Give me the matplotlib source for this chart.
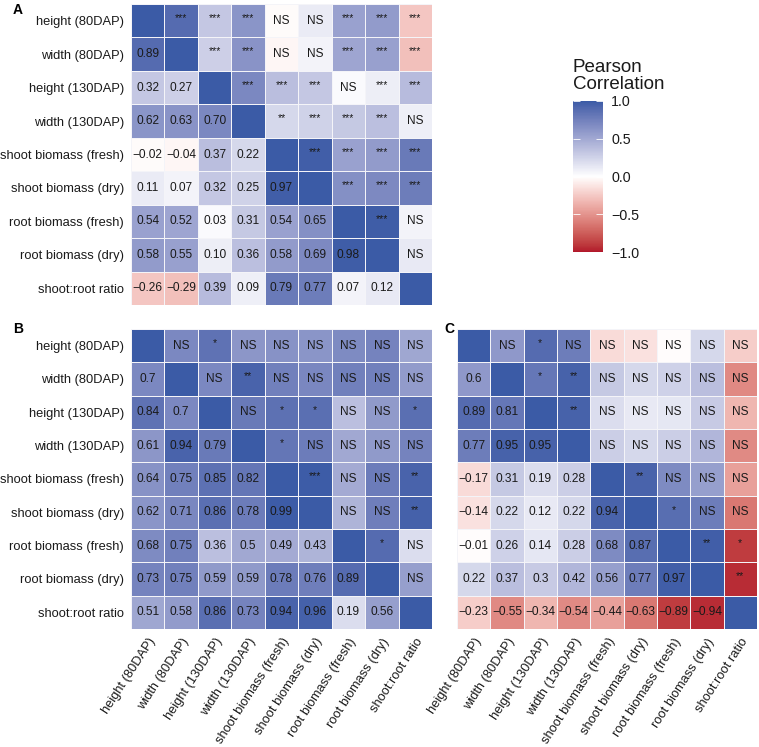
import numpy as np
import matplotlib
matplotlib.use("Agg")
import matplotlib.pyplot as plt
from matplotlib.colors import ListedColormap, Normalize, to_rgb

plt.rcParams['font.family'] = ['Liberation Sans', 'DejaVu Sans']

traits = ["height (80DAP)", "width (80DAP)", "height (130DAP)", "width (130DAP)",
          "shoot biomass (fresh)", "shoot biomass (dry)", "root biomass (fresh)",
          "root biomass (dry)", "shoot:root ratio"]

# lower-triangle correlations (row i, columns 0..i-1)
corr_A = [
    [],
    [0.89],
    [0.32, 0.27],
    [0.62, 0.63, 0.70],
    [-0.02, -0.04, 0.37, 0.22],
    [0.11, 0.07, 0.32, 0.25, 0.97],
    [0.54, 0.52, 0.03, 0.31, 0.54, 0.65],
    [0.58, 0.55, 0.10, 0.36, 0.58, 0.69, 0.98],
    [-0.26, -0.29, 0.39, 0.09, 0.79, 0.77, 0.07, 0.12],
]
lab_A = [
    [], ["0.89"], ["0.32", "0.27"], ["0.62", "0.63", "0.70"],
    ["\u22120.02", "\u22120.04", "0.37", "0.22"],
    ["0.11", "0.07", "0.32", "0.25", "0.97"],
    ["0.54", "0.52", "0.03", "0.31", "0.54", "0.65"],
    ["0.58", "0.55", "0.10", "0.36", "0.58", "0.69", "0.98"],
    ["\u22120.26", "\u22120.29", "0.39", "0.09", "0.79", "0.77", "0.07", "0.12"],
]
# upper-triangle significance (row i, columns i+1..8)
sig_A = [
    ["***", "***", "***", "NS", "NS", "***", "***", "***"],
    ["***", "***", "NS", "NS", "***", "***", "***"],
    ["***", "***", "***", "NS", "***", "***"],
    ["**", "***", "***", "***", "NS"],
    ["***", "***", "***", "***"],
    ["***", "***", "***"],
    ["***", "NS"],
    ["NS"],
    [],
]

corr_B = [
    [],
    [0.7],
    [0.84, 0.7],
    [0.61, 0.94, 0.79],
    [0.64, 0.75, 0.85, 0.82],
    [0.62, 0.71, 0.86, 0.78, 0.99],
    [0.68, 0.75, 0.36, 0.5, 0.49, 0.43],
    [0.73, 0.75, 0.59, 0.59, 0.78, 0.76, 0.89],
    [0.51, 0.58, 0.86, 0.73, 0.94, 0.96, 0.19, 0.56],
]
sig_B = [
    ["NS", "*", "NS", "NS", "NS", "NS", "NS", "NS"],
    ["NS", "**", "NS", "NS", "NS", "NS", "NS"],
    ["NS", "*", "*", "NS", "NS", "*"],
    ["*", "NS", "NS", "NS", "NS"],
    ["***", "NS", "NS", "**"],
    ["NS", "NS", "**"],
    ["*", "NS"],
    ["NS"],
    [],
]

corr_C = [
    [],
    [0.6],
    [0.89, 0.81],
    [0.77, 0.95, 0.95],
    [-0.17, 0.31, 0.19, 0.28],
    [-0.14, 0.22, 0.12, 0.22, 0.94],
    [-0.01, 0.26, 0.14, 0.28, 0.68, 0.87],
    [0.22, 0.37, 0.3, 0.42, 0.56, 0.77, 0.97],
    [-0.23, -0.55, -0.34, -0.54, -0.44, -0.63, -0.89, -0.94],
]
sig_C = [
    ["NS", "*", "NS", "NS", "NS", "NS", "NS", "NS"],
    ["*", "**", "NS", "NS", "NS", "NS", "NS"],
    ["**", "NS", "NS", "NS", "NS", "NS"],
    ["NS", "NS", "NS", "NS", "NS"],
    ["**", "NS", "NS", "NS"],
    ["*", "NS", "NS"],
    ["**", "*"],
    ["**"],
    [],
]


# ---- Lab-interpolated diverging palette (like ggplot's gradient2) ----
def srgb_to_lab(c):
    c = np.asarray(c, float)
    lin = np.where(c <= 0.04045, c / 12.92, ((c + 0.055) / 1.055) ** 2.4)
    M = np.array([[0.4124, 0.3576, 0.1805], [0.2126, 0.7152, 0.0722], [0.0193, 0.1192, 0.9505]])
    xyz = M @ lin / np.array([0.95047, 1.0, 1.08883])
    f = np.where(xyz > 0.008856, np.cbrt(xyz), 7.787 * xyz + 16 / 116)
    return np.array([116 * f[1] - 16, 500 * (f[0] - f[1]), 200 * (f[1] - f[2])])


def lab_to_srgb(lab):
    L, a, b = lab
    fy = (L + 16) / 116
    fx = fy + a / 500
    fz = fy - b / 200
    f = np.array([fx, fy, fz])
    xyz = np.where(f ** 3 > 0.008856, f ** 3, (f - 16 / 116) / 7.787) * np.array([0.95047, 1.0, 1.08883])
    Mi = np.array([[3.2406, -1.5372, -0.4986], [-0.9689, 1.8758, 0.0415], [0.0557, -0.2040, 1.0570]])
    lin = Mi @ xyz
    lin = np.clip(lin, 0, 1)
    c = np.where(lin <= 0.0031308, 12.92 * lin, 1.055 * lin ** (1 / 2.4) - 0.055)
    return np.clip(c, 0, 1)


low, mid, high = "#B2182B", "#FFFFFF", "#3B5BA6"
Llow, Lmid, Lhigh = (srgb_to_lab(to_rgb(c)) for c in (low, mid, high))
cols = []
N = 256
for t in np.linspace(-1, 1, N):
    if t < 0:
        lab = Lmid + (-t) * (Llow - Lmid)
    else:
        lab = Lmid + t * (Lhigh - Lmid)
    cols.append(lab_to_srgb(lab))
cmap = ListedColormap(cols)
norm = Normalize(-1, 1)


def fmt(v):
    s = f"{v:g}"
    return s.replace("-", "\u2212")


def draw(ax, corr, sig, labels=None, show_x=False):
    n = len(traits)
    M = np.eye(n)
    for i, row in enumerate(corr):
        for j, v in enumerate(row):
            M[i, j] = v
            M[j, i] = v
    ax.pcolormesh(np.arange(n + 1), np.arange(n + 1), M, cmap=cmap, norm=norm,
                  edgecolors="#f4f4f8", linewidth=0.6)
    ax.set_xlim(0, n)
    ax.set_ylim(n, 0)
    for i, row in enumerate(corr):
        for j, v in enumerate(row):
            t = labels[i][j] if labels is not None else fmt(v)
            ax.text(j + 0.5, i + 0.5, t, ha="center", va="center", fontsize=8.6, color="#1a1a1a")
    for i, row in enumerate(sig):
        for k, s in enumerate(row):
            j = i + 1 + k
            if s == "NS":
                ax.text(j + 0.5, i + 0.5, s, ha="center", va="center", fontsize=8.6, color="#1a1a1a")
            else:
                ax.text(j + 0.5, i + 0.42, s, ha="center", va="center", fontsize=7.5, color="#1a1a1a")
    ax.set_yticks(np.arange(n) + 0.5)
    ax.set_yticklabels(traits, fontsize=9.3, color="#1a1a1a")
    ax.set_xticks(np.arange(n) + 0.5)
    if show_x:
        ax.set_xticklabels(traits, fontsize=9.3, color="#1a1a1a", rotation=57,
                           ha="right", rotation_mode="anchor")
    else:
        ax.set_xticklabels([])
    ax.tick_params(length=0, pad=5)
    for sp in ax.spines.values():
        sp.set_visible(False)


fig = plt.figure(figsize=(7.59, 7.47), dpi=100)
W, H = 759, 747


def px_axes(x0, y0, x1, y1):
    return fig.add_axes([x0 / W, 1 - y1 / H, (x1 - x0) / W, (y1 - y0) / H])


axA = px_axes(131, 4, 432, 305)
draw(axA, corr_A, sig_A, labels=lab_A)
axB = px_axes(131, 329, 432, 629)
draw(axB, corr_B, sig_B, show_x=True)
axC = px_axes(457, 329, 757, 629)
draw(axC, corr_C, sig_C, show_x=True)
axC.set_yticklabels([])

fig.text(13 / W, 1 - 3 / H, "A", fontsize=10, fontweight="bold", va="top", ha="left")
fig.text(13 / W, 1 - 322 / H, "B", fontsize=10, fontweight="bold", va="top", ha="left")
fig.text(444 / W, 1 - 322 / H, "C", fontsize=10, fontweight="bold", va="top", ha="left")

cax = px_axes(573, 101, 603, 252)
sm = matplotlib.cm.ScalarMappable(norm=norm, cmap=cmap)
cb = fig.colorbar(sm, cax=cax, ticks=[-1.0, -0.5, 0.0, 0.5, 1.0])
cb.outline.set_visible(False)
cb.ax.set_yticklabels(["\u22121.0", "\u22120.5", "0.0", "0.5", "1.0"], fontsize=10.3, color="#1a1a1a")
cax.yaxis.set_ticks_position("both")
cax.tick_params(direction="in", color="white", length=5, width=0.6, pad=6)
cax.yaxis.set_tick_params(labelleft=False, labelright=True)
fig.text(573 / W, 1 - 93 / H, "Pearson\nCorrelation", fontsize=13.5, ha="left", va="bottom",
         color="#1a1a1a", linespacing=1.0)

fig.savefig("out.png", dpi=100)
